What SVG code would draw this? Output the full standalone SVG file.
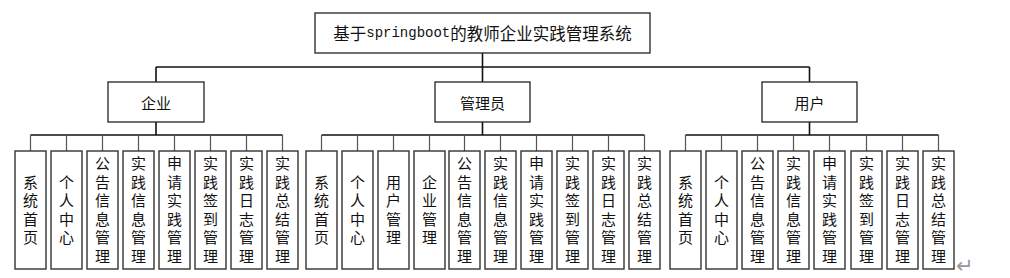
<svg xmlns="http://www.w3.org/2000/svg" width="1010" height="278" viewBox="0 0 1010 278">
<style>
.bg{fill:#fff}
.box{fill:#fff;stroke:#222;stroke-width:1.3}
.leaf{fill:#fff;stroke:#333;stroke-width:1.4}
.main{fill:none;stroke:#111;stroke-width:1.6}
.stub{fill:none;stroke:#555;stroke-width:1.2}
.t{font-family:"Noto Sans CJK SC","Noto Sans",sans-serif;fill:#111;text-anchor:middle}
.h{dominant-baseline:central}
.title{font-size:16.5px}
.mid{font-size:15px}
.lf{font-size:15px;writing-mode:vertical-rl;letter-spacing:3.5px}
.mono{font-family:"Liberation Mono",monospace;font-size:14px}
.ret{font-family:"DejaVu Sans",sans-serif;font-size:21px;fill:#999}
</style>
<rect class="bg" width="1010" height="278"/>
<g id="connectors">
  <path class="main" d="M482.5 53V67M156 67H809.5M156 67V82M482.5 67V82M809.5 67V82"/>
  <path class="main" d="M156 122V135M482.5 122V135M809.5 122V135"/>
  <path class="main" d="M30.5 135H282.5M321.5 135H644.5M685.5 135H938.5"/>
  <path class="stub" d="M30.5 135V151M66.5 135V151M102.5 135V151M138.5 135V151M174.5 135V151M210.5 135V151M246.5 135V151M282.5 135V151"/>
  <path class="stub" d="M321.5 135V151M357.5 135V151M393.5 135V151M429.5 135V151M464.5 135V151M500.5 135V151M536.5 135V151M572.5 135V151M608.5 135V151M644.5 135V151"/>
  <path class="stub" d="M685.5 135V151M721.5 135V151M757.5 135V151M793.5 135V151M829.5 135V151M866.5 135V151M902.5 135V151M938.5 135V151"/>
</g>
<g id="root">
  <rect class="box" x="315" y="13" width="335" height="40"/>
  <text class="t h title" x="482.5" y="33">基于<tspan class="mono">springboot</tspan>的教师企业实践管理系统</text>
</g>
<g id="qiye">
  <rect class="box" x="108" y="82" width="96" height="40"/>
  <text class="t h mid" x="156" y="102">企业</text>
</g>
<g id="guanliyuan">
  <rect class="box" x="435" y="82" width="95" height="40"/>
  <text class="t h mid" x="482.5" y="102">管理员</text>
</g>
<g id="yonghu">
  <rect class="box" x="762" y="82" width="95" height="40"/>
  <text class="t h mid" x="809.5" y="102">用户</text>
</g>
<g id="q1"><rect class="leaf" x="15" y="151" width="31" height="118"/><text class="t lf" x="30.5" y="211.5">系统首页</text></g>
<g id="q2"><rect class="leaf" x="51" y="151" width="31" height="118"/><text class="t lf" x="66.5" y="211.5">个人中心</text></g>
<g id="q3"><rect class="leaf" x="87" y="151" width="31" height="118"/><text class="t lf" x="102.5" y="211.5">公告信息管理</text></g>
<g id="q4"><rect class="leaf" x="123" y="151" width="31" height="118"/><text class="t lf" x="138.5" y="211.5">实践信息管理</text></g>
<g id="q5"><rect class="leaf" x="159" y="151" width="31" height="118"/><text class="t lf" x="174.5" y="211.5">申请实践管理</text></g>
<g id="q6"><rect class="leaf" x="195" y="151" width="31" height="118"/><text class="t lf" x="210.5" y="211.5">实践签到管理</text></g>
<g id="q7"><rect class="leaf" x="231" y="151" width="31" height="118"/><text class="t lf" x="246.5" y="211.5">实践日志管理</text></g>
<g id="q8"><rect class="leaf" x="267" y="151" width="31" height="118"/><text class="t lf" x="282.5" y="211.5">实践总结管理</text></g>
<g id="g1"><rect class="leaf" x="306" y="151" width="31" height="118"/><text class="t lf" x="321.5" y="211.5">系统首页</text></g>
<g id="g2"><rect class="leaf" x="342" y="151" width="31" height="118"/><text class="t lf" x="357.5" y="211.5">个人中心</text></g>
<g id="g3"><rect class="leaf" x="378" y="151" width="31" height="118"/><text class="t lf" x="393.5" y="211.5">用户管理</text></g>
<g id="g4"><rect class="leaf" x="414" y="151" width="31" height="118"/><text class="t lf" x="429.5" y="211.5">企业管理</text></g>
<g id="g5"><rect class="leaf" x="449" y="151" width="31" height="118"/><text class="t lf" x="464.5" y="211.5">公告信息管理</text></g>
<g id="g6"><rect class="leaf" x="485" y="151" width="31" height="118"/><text class="t lf" x="500.5" y="211.5">实践信息管理</text></g>
<g id="g7"><rect class="leaf" x="521" y="151" width="31" height="118"/><text class="t lf" x="536.5" y="211.5">申请实践管理</text></g>
<g id="g8"><rect class="leaf" x="557" y="151" width="31" height="118"/><text class="t lf" x="572.5" y="211.5">实践签到管理</text></g>
<g id="g9"><rect class="leaf" x="593" y="151" width="31" height="118"/><text class="t lf" x="608.5" y="211.5">实践日志管理</text></g>
<g id="g10"><rect class="leaf" x="629" y="151" width="31" height="118"/><text class="t lf" x="644.5" y="211.5">实践总结管理</text></g>
<g id="u1"><rect class="leaf" x="670" y="151" width="31" height="118"/><text class="t lf" x="685.5" y="211.5">系统首页</text></g>
<g id="u2"><rect class="leaf" x="706" y="151" width="31" height="118"/><text class="t lf" x="721.5" y="211.5">个人中心</text></g>
<g id="u3"><rect class="leaf" x="742" y="151" width="31" height="118"/><text class="t lf" x="757.5" y="211.5">公告信息管理</text></g>
<g id="u4"><rect class="leaf" x="778" y="151" width="31" height="118"/><text class="t lf" x="793.5" y="211.5">实践信息管理</text></g>
<g id="u5"><rect class="leaf" x="814" y="151" width="31" height="118"/><text class="t lf" x="829.5" y="211.5">申请实践管理</text></g>
<g id="u6"><rect class="leaf" x="851" y="151" width="31" height="118"/><text class="t lf" x="866.5" y="211.5">实践签到管理</text></g>
<g id="u7"><rect class="leaf" x="887" y="151" width="31" height="118"/><text class="t lf" x="902.5" y="211.5">实践日志管理</text></g>
<g id="u8"><rect class="leaf" x="923" y="151" width="31" height="118"/><text class="t lf" x="938.5" y="211.5">实践总结管理</text></g>
<text class="ret" x="956" y="273">↵</text>
</svg>
